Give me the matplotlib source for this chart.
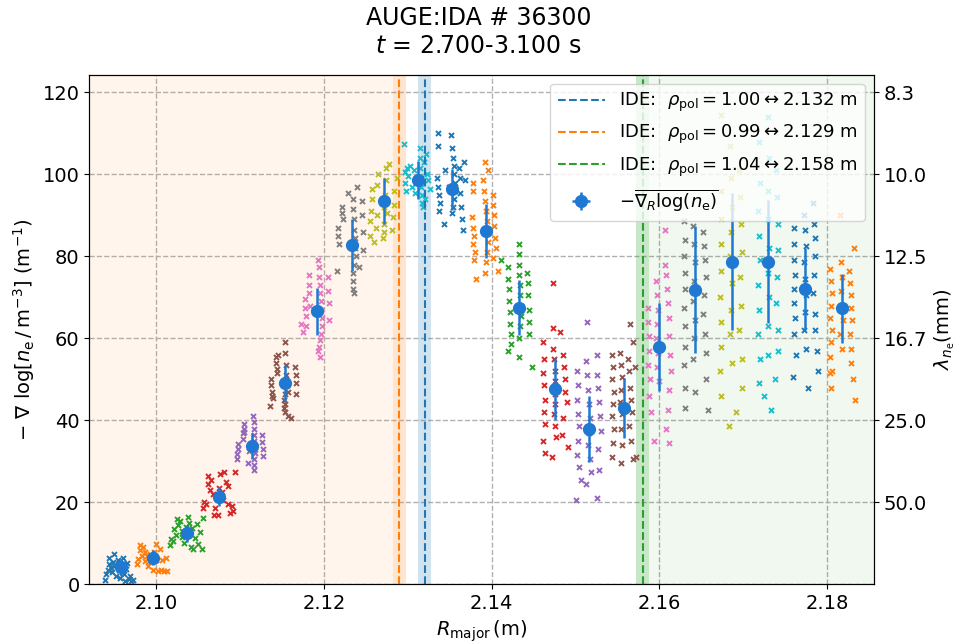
import numpy as np
import matplotlib
matplotlib.use("Agg")
import matplotlib.pyplot as plt

plt.rcParams['font.family'] = ['DejaVu Sans']

# mean position of every channel group (m) and mean gradient (1/m) with spread
r_mean = [2.0958, 2.0996, 2.1036, 2.1075, 2.1114, 2.1153, 2.1192, 2.1233, 2.1272, 2.1312, 2.1353,
          2.1393, 2.1433, 2.1475, 2.1516, 2.1558, 2.1600, 2.1643, 2.1686, 2.1730, 2.1774, 2.1818]
g_mean = [4.1, 6.5, 12.4, 21.4, 33.8, 49.0, 66.6, 82.8, 93.5, 98.6, 96.4,
          86.2, 67.5, 47.6, 37.9, 43.0, 57.8, 71.9, 78.7, 78.7, 72.1, 67.3]
g_err = [2.0, 1.8, 2.0, 2.4, 3.2, 4.4, 5.7, 6.3, 5.5, 4.6, 5.0,
         6.5, 6.7, 7.6, 8.0, 7.3, 10.7, 15.5, 16.7, 15.0, 10.0, 8.5]
r_err = 0.0007

# single samples: offset from group mean in mm, gradient value
dr01 = [-1.9,-1.8,-1.6,-1.5,-1.4,-1.2,-1.1,-1.0,-0.9,-0.8,-0.6,-0.5,-0.4,-0.3,-0.2,-0.1,0.0,0.1,0.2,0.3,0.4,0.5,0.6,0.7,0.9,1.0,1.2,1.4]
y01 = [1.0,2.5,3.5,5.0,6.5,4.0,3.0,5.5,4.5,7.5,2.0,4.5,6.0,3.5,5.0,1.5,4.0,3.0,6.5,2.5,4.8,0.8,3.8,5.2,1.2,2.0,0.9,1.1]
dr02 = [-1.9,-1.8,-1.6,-1.5,-1.3,-1.2,-1.0,-0.9,-0.7,-0.6,-0.4,-0.3,-0.1,0.0,0.1,0.3,0.4,0.6,0.8,0.9,1.1,1.3,1.5,1.7]
y02 = [5.0,6.2,9.5,8.3,7.0,9.0,5.8,8.0,6.8,4.5,7.4,5.5,6.5,3.5,7.8,9.8,6.0,3.2,8.6,3.4,5.9,3.3,6.4,3.2]
dr03 = [-2.0,-1.8,-1.6,-1.5,-1.3,-1.1,-1.0,-0.8,-0.6,-0.5,-0.3,-0.1,0.0,0.2,0.3,0.5,0.6,0.8,1.0,1.2,1.4,1.6,1.8,2.0]
y03 = [9.5,11.0,10.5,13.5,12.0,16.0,14.5,15.5,13.0,11.5,10.0,14.0,12.5,16.5,15.0,9.0,13.8,8.5,11.2,14.6,9.8,12.8,8.6,16.2]
dr04 = [-1.9,-1.8,-1.6,-1.4,-1.3,-1.1,-1.0,-0.8,-0.6,-0.5,-0.3,-0.2,0.0,0.1,0.3,0.5,0.6,0.8,1.0,1.1,1.3,1.5,1.7,1.9]
y04 = [18.5,20.0,19.5,24.5,26.5,23.0,25.5,22.0,17.0,18.5,21.0,16.8,23.5,26.8,22.5,20.5,27.5,25.0,19.5,24.0,17.5,19.0,18.0,27.3]
dr05 = [-1.8,-1.8,-1.7,-1.7,-1.1,-1.1,-1.0,-1.0,-0.9,0.1,0.2,0.2,0.3,0.3,0.4,0.4,0.3,0.2,0.3,1.2,1.2,1.3,1.3,-0.3,-0.5]
y05 = [30.5,31.8,33.0,34.2,35.5,36.8,38.0,37.2,39.0,41.0,39.5,38.0,36.5,35.0,33.5,32.0,30.5,29.0,27.8,36.5,34.8,33.0,31.2,32.5,29.5]
dr06 = [-1.6,-1.6,-1.5,-1.5,-1.4,-1.0,-1.0,-0.9,-0.9,-0.8,-0.1,-0.1,0.0,0.0,0.0,0.1,0.1,0.2,0.2,0.3,0.4,0.4,1.2,1.3,1.3,1.4,-1.8,0.8]
y06 = [50.0,48.5,47.0,46.0,45.5,55.5,54.0,52.5,51.5,56.0,45.0,43.0,42.0,44.0,46.5,59.0,56.5,53.5,51.0,48.5,47.0,41.0,53.0,51.0,49.0,46.5,43.5,40.5]
dr07 = [-1.5,-1.5,-1.4,-1.4,-1.0,-1.0,-1.0,-0.9,0.1,0.2,0.2,0.3,0.3,0.4,0.4,0.5,0.5,0.4,0.3,0.2,0.1,0.3,1.3,1.3,1.4,1.4,-2.0,-1.7]
y07 = [69.5,67.5,65.5,63.0,75.5,73.0,71.0,68.0,79.0,77.5,75.0,73.0,71.0,69.0,67.0,65.0,63.0,61.0,59.5,58.0,57.0,55.5,75.0,71.5,68.5,64.5,63.5,61.5]
dr08 = [-1.6,-1.6,-1.5,-1.7,-1.1,-1.1,-1.0,0.1,0.2,0.3,0.3,0.4,0.4,0.5,0.3,0.2,0.1,0.2,0.3,1.2,1.2,1.3,1.3,0.6,-0.5,0.9]
y08 = [87.0,85.0,83.0,76.5,92.0,90.5,89.0,94.0,91.5,89.0,86.5,84.5,82.0,80.0,78.0,76.0,74.0,72.0,71.0,93.5,90.0,86.0,81.5,97.0,95.5,77.5]
dr09 = [-1.7,-1.7,-1.6,-1.5,-1.5,-1.0,-0.9,-0.9,-0.8,-0.2,-0.1,0.0,0.0,0.1,0.2,0.2,0.3,0.9,1.0,1.1,1.2,1.5,-1.2,0.6]
y09 = [85.0,88.5,91.0,94.0,96.5,87.0,90.0,97.5,100.0,84.5,86.0,88.0,92.0,95.0,98.5,101.5,90.5,86.5,89.5,92.5,96.0,99.0,83.5,102.5]
dr10 = [-1.7,-1.6,-1.5,-1.4,-1.3,-1.2,-0.9,-0.7,-0.5,-0.3,0.2,0.3,0.3,0.4,0.4,0.5,0.5,0.6,0.7,1.0,1.1,1.2,1.4,-0.1,0.8]
y10 = [107.5,100.5,98.0,96.0,101.5,99.5,102.0,97.0,101.0,95.5,106.5,104.0,101.5,99.0,97.0,95.0,93.0,92.0,103.0,105.0,100.0,98.5,96.5,98.5,94.0]
dr11 = [-1.7,-1.7,-1.8,-1.7,-1.6,-1.5,-1.6,-1.0,-0.9,-0.1,0.0,0.1,0.2,0.2,0.3,0.3,0.2,0.1,0.0,0.8,0.9,0.9,1.0,1.1,1.3,1.4,1.5,-0.4]
y11 = [110.0,107.0,99.0,97.0,95.0,93.0,91.0,88.0,101.0,109.5,106.5,104.0,102.0,100.0,98.0,96.0,94.0,92.0,90.5,101.5,99.0,95.5,92.0,89.0,86.5,103.0,98.5,97.0]
dr12 = [-0.1,0.3,-1.5,-1.5,-1.6,-1.5,-1.4,-1.5,-1.3,-1.4,-1.2,-0.3,-0.2,-0.1,0.0,0.1,0.2,0.2,0.1,0.0,-0.1,0.8,0.9,1.0,1.0,1.1,1.2,0.9,1.4]
y12 = [103.0,101.0,98.0,96.0,89.5,87.0,85.0,83.0,81.0,79.0,74.5,98.5,96.0,93.5,91.0,88.5,86.0,83.5,81.0,78.5,76.0,95.0,92.5,90.0,87.5,84.5,82.0,79.5,76.5]
dr13 = [-0.1,-1.3,-1.3,-1.2,-1.2,-1.1,-1.1,-1.0,-1.0,-1.3,-0.1,0.0,0.0,0.1,0.1,0.2,0.2,0.1,0.0,-0.1,0.9,1.0,1.0,1.1,1.2,1.2,1.5,-2.2]
y13 = [83.0,77.5,74.5,72.0,69.0,66.5,63.5,61.0,58.5,57.0,80.5,78.0,75.5,73.0,70.5,68.0,65.5,63.0,60.0,55.5,76.0,73.5,70.5,67.0,64.0,61.0,53.0,79.0]
dr14 = [-0.2,-0.2,0.7,-1.4,-1.3,-1.4,-1.3,-1.2,-1.3,-1.2,-1.4,-1.1,-0.2,-0.1,0.0,0.1,0.1,0.0,-0.1,0.0,0.2,-0.3,1.0,1.1,1.2,1.3,1.5,1.0,0.9,1.6]
y14 = [73.5,62.5,61.5,59.0,55.0,51.5,48.5,45.0,42.0,39.0,35.0,32.0,57.5,55.0,52.0,49.5,46.5,44.0,41.5,38.5,36.0,31.0,56.0,53.0,50.0,47.0,44.5,40.5,36.5,33.5]
dr15 = [-0.2,1.0,-1.4,-1.3,-1.4,-1.3,-1.2,-1.3,-1.4,-1.2,-1.0,-0.3,-0.2,-0.1,0.0,0.1,0.0,-0.1,0.1,0.2,-0.3,1.0,1.1,1.2,1.3,1.4,1.1,1.2,-1.5,0.9]
y15 = [64.0,56.0,52.0,48.5,45.0,41.5,38.5,35.0,31.5,28.5,25.5,54.5,51.0,47.5,44.0,40.5,37.0,34.0,30.5,27.5,24.5,51.0,48.0,44.5,41.0,37.5,33.0,28.0,20.5,21.0]
dr16 = [0.7,1.0,-1.4,-1.3,-1.4,-1.2,-1.3,-1.4,-1.2,-1.3,-1.4,-0.5,-0.4,-0.3,-0.4,-0.5,-0.3,-0.4,-0.3,-0.4,0.5,0.6,0.7,0.8,0.9,0.6,0.8,1.3,1.4,1.0]
y16 = [63.5,59.0,56.0,53.0,50.0,47.0,44.0,41.0,38.0,34.5,31.0,56.5,53.5,50.5,47.5,44.5,41.5,38.0,34.0,29.5,55.0,52.0,48.0,45.0,42.0,38.5,35.0,53.0,31.0,30.5]
dr17 = [0.7,-1.3,-1.3,-1.2,-1.2,-1.3,-1.1,-1.2,-1.0,-0.4,-0.3,-0.2,-0.3,-0.4,-0.2,-0.3,-0.1,0.7,0.8,0.9,1.0,1.1,1.2,1.3,1.4,1.2,1.0,0.8,-0.6,1.1]
y17 = [86.5,67.5,64.0,60.5,57.0,53.5,50.0,46.0,42.0,74.0,70.5,67.0,63.5,60.0,56.5,53.0,49.5,78.0,75.5,72.0,68.5,65.0,60.5,56.0,52.0,47.5,42.5,38.0,35.0,34.5]
dr18 = [-1.4,-1.3,-1.4,-1.2,-1.3,-1.4,-1.2,-1.3,-1.4,-1.2,-1.3,-0.3,-0.2,-0.1,-0.2,-0.3,-0.1,-0.2,-0.3,-0.1,0.9,1.0,1.1,1.2,1.0,0.9,1.1,1.2,1.3,1.5]
y18 = [88.5,84.0,80.0,76.0,72.0,67.5,63.0,58.0,53.5,48.0,43.0,87.5,83.0,78.5,74.0,69.0,64.5,60.0,55.0,47.0,86.0,82.5,79.0,75.0,70.5,66.0,61.0,56.5,50.0,42.5]
dr19 = [-1.3,-1.2,-1.3,-1.2,-1.3,-1.4,-1.2,-1.3,-1.4,-1.2,-0.2,-0.1,0.0,-0.1,-0.2,0.0,-0.1,-0.2,0.1,0.9,1.0,1.1,1.2,1.0,1.1,0.9,1.2,1.3,-0.3,0.5]
y19 = [114.5,96.0,89.0,83.0,76.5,70.0,64.0,58.0,52.0,46.0,107.0,99.0,92.0,86.0,80.0,73.5,67.0,61.0,54.0,101.0,94.5,88.0,81.0,75.0,68.0,62.0,55.0,48.0,38.5,42.0]
dr20 = [-1.1,-1.0,-1.2,-1.1,-1.0,-1.2,-1.1,-1.2,-1.0,-1.1,0.0,0.1,0.0,-0.1,0.1,0.0,0.1,-0.1,0.0,0.9,1.0,1.1,1.2,1.0,0.9,1.1,1.2,0.8,0.3,-0.5]
y20 = [108.0,98.0,91.0,85.0,79.0,73.0,67.0,61.0,55.0,49.0,114.0,104.0,96.0,89.0,82.0,76.0,70.0,63.0,56.0,101.0,94.5,88.0,81.5,75.0,68.5,62.0,57.0,50.0,42.5,46.0]
dr21 = [-1.3,-1.4,-1.3,-1.2,-1.3,-1.4,-1.2,-1.3,-1.1,-0.1,0.0,0.1,-0.1,0.0,0.1,0.0,-0.1,0.1,0.9,1.0,1.1,1.2,1.0,0.9,1.1,1.2,1.4,1.5,-1.5,0.3]
y21 = [87.0,83.0,79.0,75.5,72.0,68.5,65.0,61.0,56.0,90.0,86.5,82.5,78.5,74.5,70.5,66.5,62.0,57.5,93.0,88.0,84.5,80.0,75.5,71.0,66.0,62.0,57.0,52.0,50.5,48.0]
dr22 = [-1.4,-1.3,-1.2,-1.3,-1.4,-1.2,-1.3,-1.4,-1.2,-1.3,-0.2,-0.1,0.0,-0.1,0.0,0.1,-0.2,0.0,0.8,0.9,1.0,1.1,1.2,0.9,1.0,1.1,1.4,1.3,1.5,-1.5]
y22 = [77.0,74.0,71.0,68.0,65.0,62.0,59.0,55.5,52.0,48.0,90.0,78.5,75.0,71.5,68.0,64.5,61.0,57.5,76.5,73.5,70.5,67.5,64.5,61.0,57.5,54.0,82.0,50.0,45.0,51.5]

samples_dr = [dr01, dr02, dr03, dr04, dr05, dr06, dr07, dr08, dr09, dr10, dr11,
              dr12, dr13, dr14, dr15, dr16, dr17, dr18, dr19, dr20, dr21, dr22]
samples_y = [y01, y02, y03, y04, y05, y06, y07, y08, y09, y10, y11,
             y12, y13, y14, y15, y16, y17, y18, y19, y20, y21, y22]

# separatrix estimates
sep_rho = [1.00, 0.99, 1.04]
sep_r = [2.132, 2.129, 2.158]
sep_col = ['C0', 'C1', 'C2']
sep_halfwidth = 0.00078

fig, ax = plt.subplots(figsize=(9.57, 6.44), dpi=100)
fig.subplots_adjust(left=0.0933, right=0.9133, bottom=0.0927, top=0.884)

xmin, xmax = 2.0920, 2.1856
ymin, ymax = 0, 124.3

# shaded regions inside / outside the separatrix
ax.axvspan(xmin, sep_r[1] - sep_halfwidth, color='C1', alpha=0.07, lw=0)
ax.axvspan(sep_r[2] - sep_halfwidth, xmax, color='C2', alpha=0.07, lw=0)

for i in range(len(r_mean)):
    rr = r_mean[i] + np.array(samples_dr[i]) * 1e-3
    ax.scatter(rr, samples_y[i], marker='x', s=13, lw=1.4, color='C%d' % (i % 10), zorder=2)

for rho, r, c in zip(sep_rho, sep_r, sep_col):
    ax.axvspan(r - sep_halfwidth, r + sep_halfwidth, color=c, alpha=0.2, lw=0)
    ax.axvline(r, color=c, ls='--', lw=1.5,
               label=r'IDE:  $\rho_\mathrm{pol} = %.2f \leftrightarrow %.3f$ m' % (rho, r))

ax.errorbar(r_mean, g_mean, yerr=g_err, xerr=r_err, fmt='o', ms=8.5, color='#1f78d1',
            elinewidth=1.8, capsize=0, zorder=4,
            label=r'$-\overline{\nabla_R \log(n_\mathrm{e})}$')

ax.set_xlim(xmin, xmax)
ax.set_ylim(ymin, ymax)
ax.set_xticks([2.10, 2.12, 2.14, 2.16, 2.18])
ax.set_xticklabels(['2.10', '2.12', '2.14', '2.16', '2.18'])
ax.set_yticks(np.arange(0, 121, 20))
ax.tick_params(labelsize=14)
ax.grid(True, ls='--', color='#b0b0b0', lw=1)
ax.set_axisbelow(True)
ax.set_xlabel(r'$R_\mathrm{major}\,$(m)', fontsize=14, labelpad=4)
ax.set_ylabel(r'$-\ \nabla\ \log[n_\mathrm{e}\,/\,\mathrm{m}^{-3}]$ (m$^{-1}$)', fontsize=14)
ax.legend(loc='upper right', fontsize=13, framealpha=0.8, handlelength=2.6)

ax2 = ax.twinx()
ax2.set_ylim(ymin, ymax)
lam_ticks = [120, 100, 80, 60, 40, 20]
ax2.set_yticks(lam_ticks)
ax2.set_yticklabels(['%.1f' % (1000.0 / v) for v in lam_ticks])
ax2.tick_params(labelsize=14)
ax2.set_ylabel(r'$\lambda_{n_\mathrm{e}}$(mm)', fontsize=14)

fig.suptitle('AUGE:IDA # 36300\n$t$ = 2.700-3.100 s', fontsize=17, y=0.99)

fig.savefig('out.png', dpi=100)
